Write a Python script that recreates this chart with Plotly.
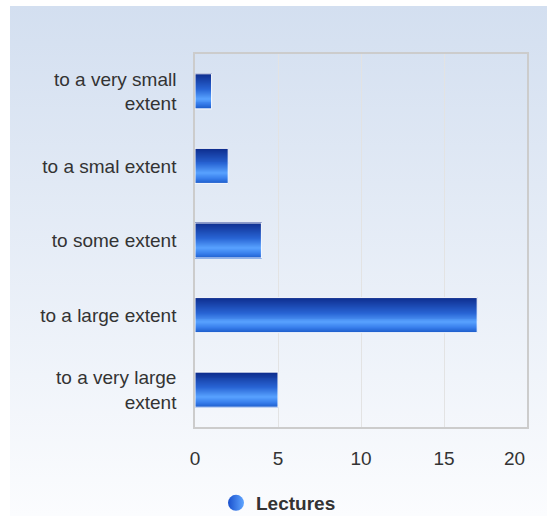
import base64
import plotly.graph_objects as go

categories = ["to a very small<br>extent", "to a smal extent", "to some extent",
              "to a large extent", "to a very large<br>extent"]
values = [1, 2, 4, 17, 5]
series_name = "Lectures"
x_ticks = [0, 5, 10, 15, 20]
x_ticktext = ["0", "5", "10", "15", ""]
last_tick_label = "20"

W, H = 547, 516
ML, MR, MT, MB = 195, 20, 54, 89
PW, PH = W - ML - MR, H - MT - MB
FS = 19

# gradient stops for bars (top -> bottom)
stops = [(0.0, (12, 42, 138)), (0.45, (40, 100, 212)), (0.72, (88, 162, 255)),
         (0.88, (55, 125, 235)), (1.0, (30, 95, 205))]


def grad(t):
    for (t0, c0), (t1, c1) in zip(stops[:-1], stops[1:]):
        if t0 <= t <= t1:
            f = (t - t0) / (t1 - t0) if t1 > t0 else 0
            return "rgb(%d,%d,%d)" % tuple(round(a + (b - a) * f) for a, b in zip(c0, c1))
    return "rgb(%d,%d,%d)" % stops[-1][1]


fig = go.Figure()
bw = 0.47
N = 36
for k in range(N):
    fig.add_trace(go.Bar(
        orientation="h", x=values, y=categories,
        width=bw / N * 1.05, offset=-bw / 2 + k * bw / N,
        marker=dict(color=grad((k + 0.5) / N), line=dict(width=0)),
        showlegend=False, hoverinfo="skip"))
fig.add_trace(go.Bar(
    orientation="h", x=values, y=categories, width=bw, offset=-bw / 2,
    marker=dict(color="rgba(0,0,0,0)", line=dict(color="white", width=1)),
    showlegend=False, name=series_name))

fig.add_trace(go.Scatter(
    x=[None], y=[None], mode="markers", name="<b>%s</b>" % series_name,
    marker=dict(symbol="circle", size=17, color="rgb(25,80,205)",
                gradient=dict(type="horizontal", color="rgb(95,165,255)"),
                line=dict(width=0))))

svg = ('<svg xmlns="http://www.w3.org/2000/svg" width="537" height="510">'
       '<defs><linearGradient id="g" x1="0" y1="0" x2="0" y2="1">'
       '<stop offset="0" stop-color="#d3dff0"/><stop offset="1" stop-color="#fbfcfe"/>'
       '</linearGradient></defs><rect width="537" height="510" fill="url(#g)"/></svg>')
src = "data:image/svg+xml;base64," + base64.b64encode(svg.encode()).decode()

fig.add_layout_image(dict(
    source=src, xref="paper", yref="paper",
    x=(10 - ML) / PW, y=(H - MB - 6) / PH,
    sizex=(W - 10) / PW, sizey=(H - 6) / PH,
    xanchor="left", yanchor="top", sizing="stretch", layer="below"))

# last x tick label is justified inside the chart (as in the original)
fig.add_annotation(x=x_ticks[-1], xref="x", y=0, yref="paper", text=last_tick_label,
                   showarrow=False, xanchor="right", yanchor="top", xshift=0,
                   yshift=-19, font=dict(size=FS, color="#333333"))

fig.update_layout(
    width=W, height=H, margin=dict(l=ML, r=MR, t=MT, b=MB, autoexpand=False),
    paper_bgcolor="white", plot_bgcolor="rgba(0,0,0,0)",
    barmode="overlay",
    font=dict(family="Liberation Sans, Arial, sans-serif", size=FS, color="#333333"),
    showlegend=True,
    legend=dict(orientation="h", xref="container", yref="container",
                x=216 / W, xanchor="left",
                y=(H - 503) / H, yanchor="middle",
                font=dict(size=FS, color="#333333"), bgcolor="rgba(0,0,0,0)"),
    xaxis=dict(range=[0, 20], tickvals=x_ticks, ticktext=x_ticktext,
               showgrid=True, gridcolor="#e3e3e3",
               gridwidth=1, zeroline=False, showline=True, linecolor="#cccccc",
               linewidth=1.5, mirror=True, ticks="", ticklabelstandoff=13),
    yaxis=dict(autorange="reversed", showgrid=False, zeroline=False, showline=True,
               linecolor="#cccccc", linewidth=1.5, mirror=True, ticks="",
               ticklabelstandoff=13),
)

fig.write_html("out.html")
